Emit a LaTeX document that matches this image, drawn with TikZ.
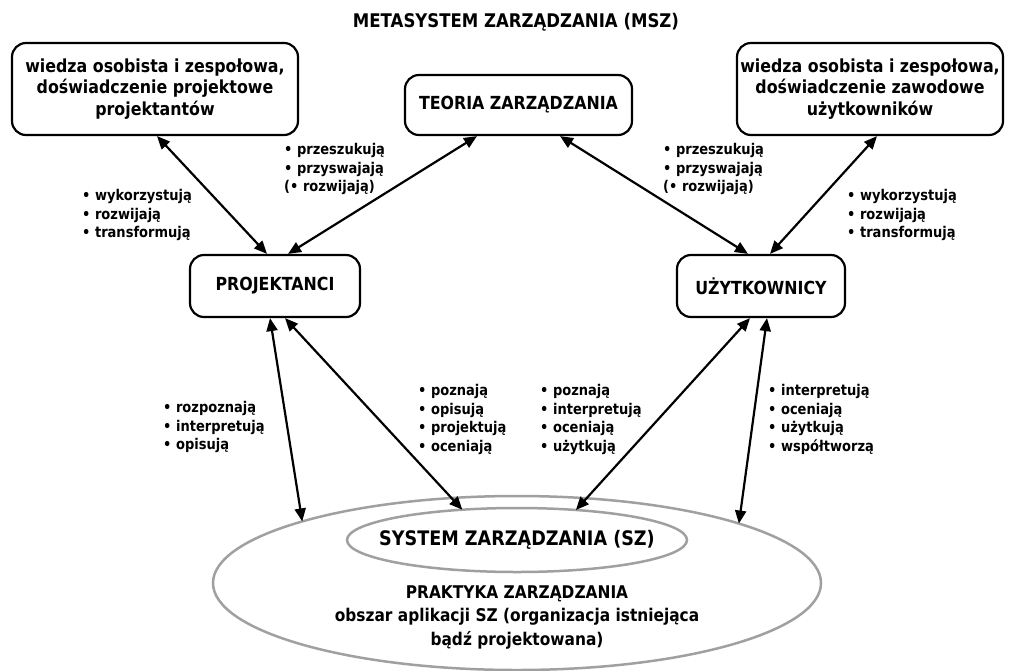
\documentclass[tikz,border=0pt]{standalone}
\usepackage{fontspec}
\setmainfont{DejaVu Sans}[FakeStretch=0.88]
\usetikzlibrary{arrows.meta,shapes.geometric}
\definecolor{ringgray}{RGB}{160,160,160}
\newcommand\bxfont{\fontsize{18}{21.5}\selectfont\bfseries}
\newcommand\lbfont{\fontsize{14.8}{18.7}\selectfont\bfseries}
\newcommand\ttlfont{\fontsize{18.8}{22}\selectfont\bfseries}
\newcommand\szfont{\fontsize{20}{24}\selectfont\bfseries}
\newcommand\prfont{\fontsize{17.5}{23.5}\selectfont\bfseries}
\begin{document}
\begin{tikzpicture}[x=1pt,y=-1pt,
  box/.style={draw,line width=2.2pt,rounded corners=14pt,inner sep=0pt,align=center,font=\bxfont},
  ring/.style={ellipse,draw=ringgray,line width=2.5pt,inner sep=0pt,outer sep=0pt},
  lbl/.style={font=\lbfont,align=left,anchor=west,inner sep=0pt},
  link/.style={{Triangle[length=13pt,width=11pt]}-{Triangle[length=13pt,width=11pt]},line width=2.2pt}
]
\useasboundingbox (0,0) rectangle (1012,670);

% title
\node[font=\ttlfont] (title) at (516,22) {METASYSTEM ZARZĄDZANIA (MSZ)};

% upper boxes
\node[box,minimum width=286pt,minimum height=92pt] (lk) at (155,89)
  {wiedza osobista i zespołowa,\\doświadczenie projektowe\\projektantów};
\node[box,minimum width=227pt,minimum height=60pt] (tz) at (518.5,105) {TEORIA ZARZĄDZANIA};
\node[box,minimum width=266pt,minimum height=92pt] (rk) at (870,89)
  {wiedza osobista i zespołowa,\\doświadczenie zawodowe\\użytkowników};

% actors
\node[box,minimum width=170pt,minimum height=62pt] (pr) at (275,286) {PROJEKTANCI};
\node[box,minimum width=168pt,minimum height=62pt] (uz) at (761,286) {UŻYTKOWNICY};

% management practice and management system
\node[ring,minimum width=608pt,minimum height=174pt] (praktyka) at (517,583) {};
\node[ring,minimum width=340pt,minimum height=64pt] (sz) at (517,540) {};
\node[font=\szfont] (szt) at (517,540) {SYSTEM ZARZĄDZANIA (SZ)};
\node[font=\prfont,align=center] (prt) at (517,617)
  {PRAKTYKA ZARZĄDZANIA\\obszar aplikacji SZ (organizacja istniejąca\\bądź projektowana)};

% connectors
\draw[link] ([xshift=2pt]lk.south) -- ([xshift=-8pt]pr.north);
\draw[link] ([xshift=-41.5pt]tz.south) -- ([xshift=13pt]pr.north);
\draw[link] ([xshift=41.5pt]tz.south) -- ([xshift=-13pt]uz.north);
\draw[link] ([xshift=7pt]rk.south) -- ([xshift=9pt]uz.north);
\draw[link] ([xshift=-5pt]pr.south) -- (praktyka.164.6);
\draw[link] ([xshift=10pt]pr.south) -- (sz.151);
\draw[link] ([xshift=-11pt]uz.south) -- (sz.27.4);
\draw[link] ([xshift=6pt]uz.south) -- (praktyka.15.6);

% connector labels
\node[lbl] (l1) at (82,215) {• wykorzystują\\• rozwijają\\• transformują};
\node[lbl] (l2) at (284,169) {• przeszukują\\• przyswajają\\(• rozwijają)};
\node[lbl] (l3) at (663,169) {• przeszukują\\• przyswajają\\(• rozwijają)};
\node[lbl] (l4) at (847,215) {• wykorzystują\\• rozwijają\\• transformują};
\node[lbl] (l5) at (163,427) {• rozpoznają\\• interpretują\\• opisują};
\node[lbl] (l6) at (418,419.5) {• poznają\\• opisują\\• projektują\\• oceniają};
\node[lbl] (l7) at (540,419.5) {• poznają\\• interpretują\\• oceniają\\• użytkują};
\node[lbl] (l8) at (768,419.5) {• interpretują\\• oceniają\\• użytkują\\• współtworzą};
\end{tikzpicture}
\end{document}
